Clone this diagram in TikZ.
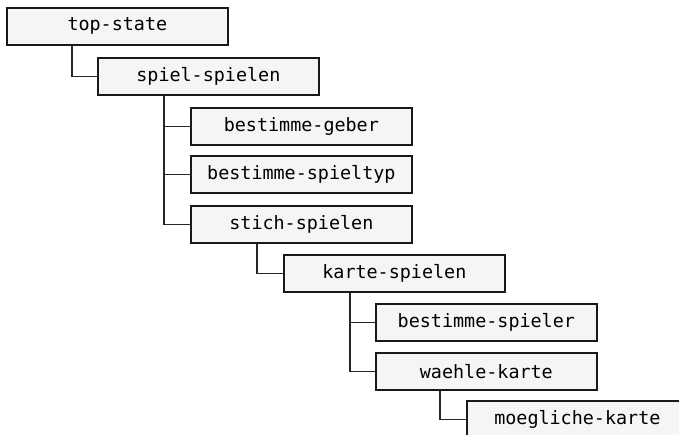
\documentclass[tikz,border=0pt]{standalone}
\usepackage{fontspec}
\setmonofont{DejaVu Sans Mono}
\begin{document}
\begin{tikzpicture}[x=1pt,y=-1pt,
  state/.style={draw=black!90, line width=1.7pt, fill=black!4,
    anchor=north west, minimum width=221pt, minimum height=37pt,
    inner sep=0pt, font=\ttfamily\fontsize{18.4}{21}\selectfont, text=black},
  link/.style={draw=black!85, line width=1.6pt}]
\useasboundingbox (0,0) rectangle (679,435);
\clip (0,0) rectangle (679,435);
\fill[white] (0,0) rectangle (679,435);

% state hierarchy
\node[state] (top)      at (6,7)     {top-state};
\node[state] (spiel)    at (97,57)   {spiel-spielen};
\node[state] (geber)    at (190,107) {bestimme-geber};
\node[state] (typ)      at (190,155) {bestimme-spieltyp};
\node[state] (stich)    at (190,205) {stich-spielen};
\node[state] (karte)    at (283,254) {karte-spielen};
\node[state] (spieler)  at (375,303) {bestimme-spieler};
\node[state] (waehle)   at (375,352) {waehle-karte};
\node[state] (moegl)    at (466,400) {moegliche-karte};

% parent-child links
\draw[link] (top.south west)   ++(66,0) |- (spiel.west);
\draw[link] (spiel.south west) ++(67,0) |- (geber.west);
\draw[link] (spiel.south west) ++(67,0) |- (typ.west);
\draw[link] (spiel.south west) ++(67,0) |- (stich.west);
\draw[link] (stich.south west) ++(67,0) |- (karte.west);
\draw[link] (karte.south west) ++(67,0) |- (spieler.west);
\draw[link] (karte.south west) ++(67,0) |- (waehle.west);
\draw[link] (waehle.south west)++(65,0) |- (moegl.west);
\end{tikzpicture}
\end{document}
